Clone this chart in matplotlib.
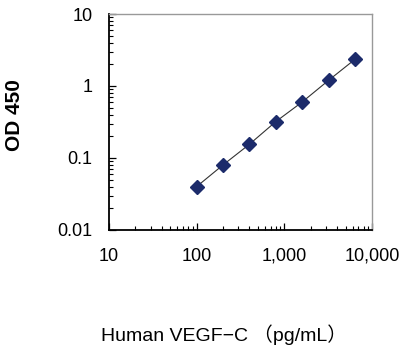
import matplotlib.pyplot as plt
from matplotlib.ticker import FixedLocator, LogLocator, NullFormatter

# standard curve
conc = [100, 200, 400, 800, 1600, 3200, 6400]
od = [0.04, 0.08, 0.155, 0.32, 0.60, 1.2, 2.35]

x_ticks = [10, 100, 1000, 10000]
x_labels = ['10', '100', '1,000', '10,000']
y_ticks = [0.01, 0.1, 1, 10]
y_labels = ['0.01', '0.1', '1', '10']

plt.rcParams['font.family'] = ['Liberation Sans', 'Noto Sans CJK JP', 'DejaVu Sans']

fig = plt.figure(figsize=(4.0, 3.51), dpi=100)
ax = fig.add_axes([0.2725, 0.345, 0.6575, 0.615])

ax.plot(conc, od, color='#333333', linewidth=0.8, marker='D', markersize=7.5,
        markerfacecolor='#1c2b6b', markeredgecolor='#1c2b6b')

ax.set_xscale('log')
ax.set_yscale('log')
ax.set_xlim(10, 10000)
ax.set_ylim(0.01, 10)

ax.xaxis.set_major_locator(FixedLocator(x_ticks))
ax.set_xticklabels(x_labels)
ax.yaxis.set_major_locator(FixedLocator(y_ticks))
ax.set_yticklabels(y_labels)
ax.xaxis.set_minor_locator(LogLocator(base=10, subs=range(2, 10)))
ax.yaxis.set_minor_locator(LogLocator(base=10, subs=range(2, 10)))
ax.xaxis.set_minor_formatter(NullFormatter())
ax.yaxis.set_minor_formatter(NullFormatter())

ax.tick_params(which='both', direction='in', labelsize=13, color='black')
ax.tick_params(which='major', length=5, width=0.9)
ax.tick_params(which='minor', length=3, width=0.8)
ax.tick_params(axis='x', pad=13)
ax.tick_params(axis='y', pad=12)

for side in ['left', 'bottom']:
    ax.spines[side].set_color('black')
    ax.spines[side].set_linewidth(1.3)
for side in ['top', 'right']:
    ax.spines[side].set_color('#999999')
    ax.spines[side].set_linewidth(1.0)

ax.set_ylabel('OD 450', fontsize=15, fontweight='bold')
ax.yaxis.set_label_coords(-0.325, 0.53)
fig.text(0.56, 0.046, 'Human VEGF\u2212C \uff08pg/mL\uff09', ha='center', va='center',
         fontsize=14)

fig.savefig('out.png', dpi=100)
